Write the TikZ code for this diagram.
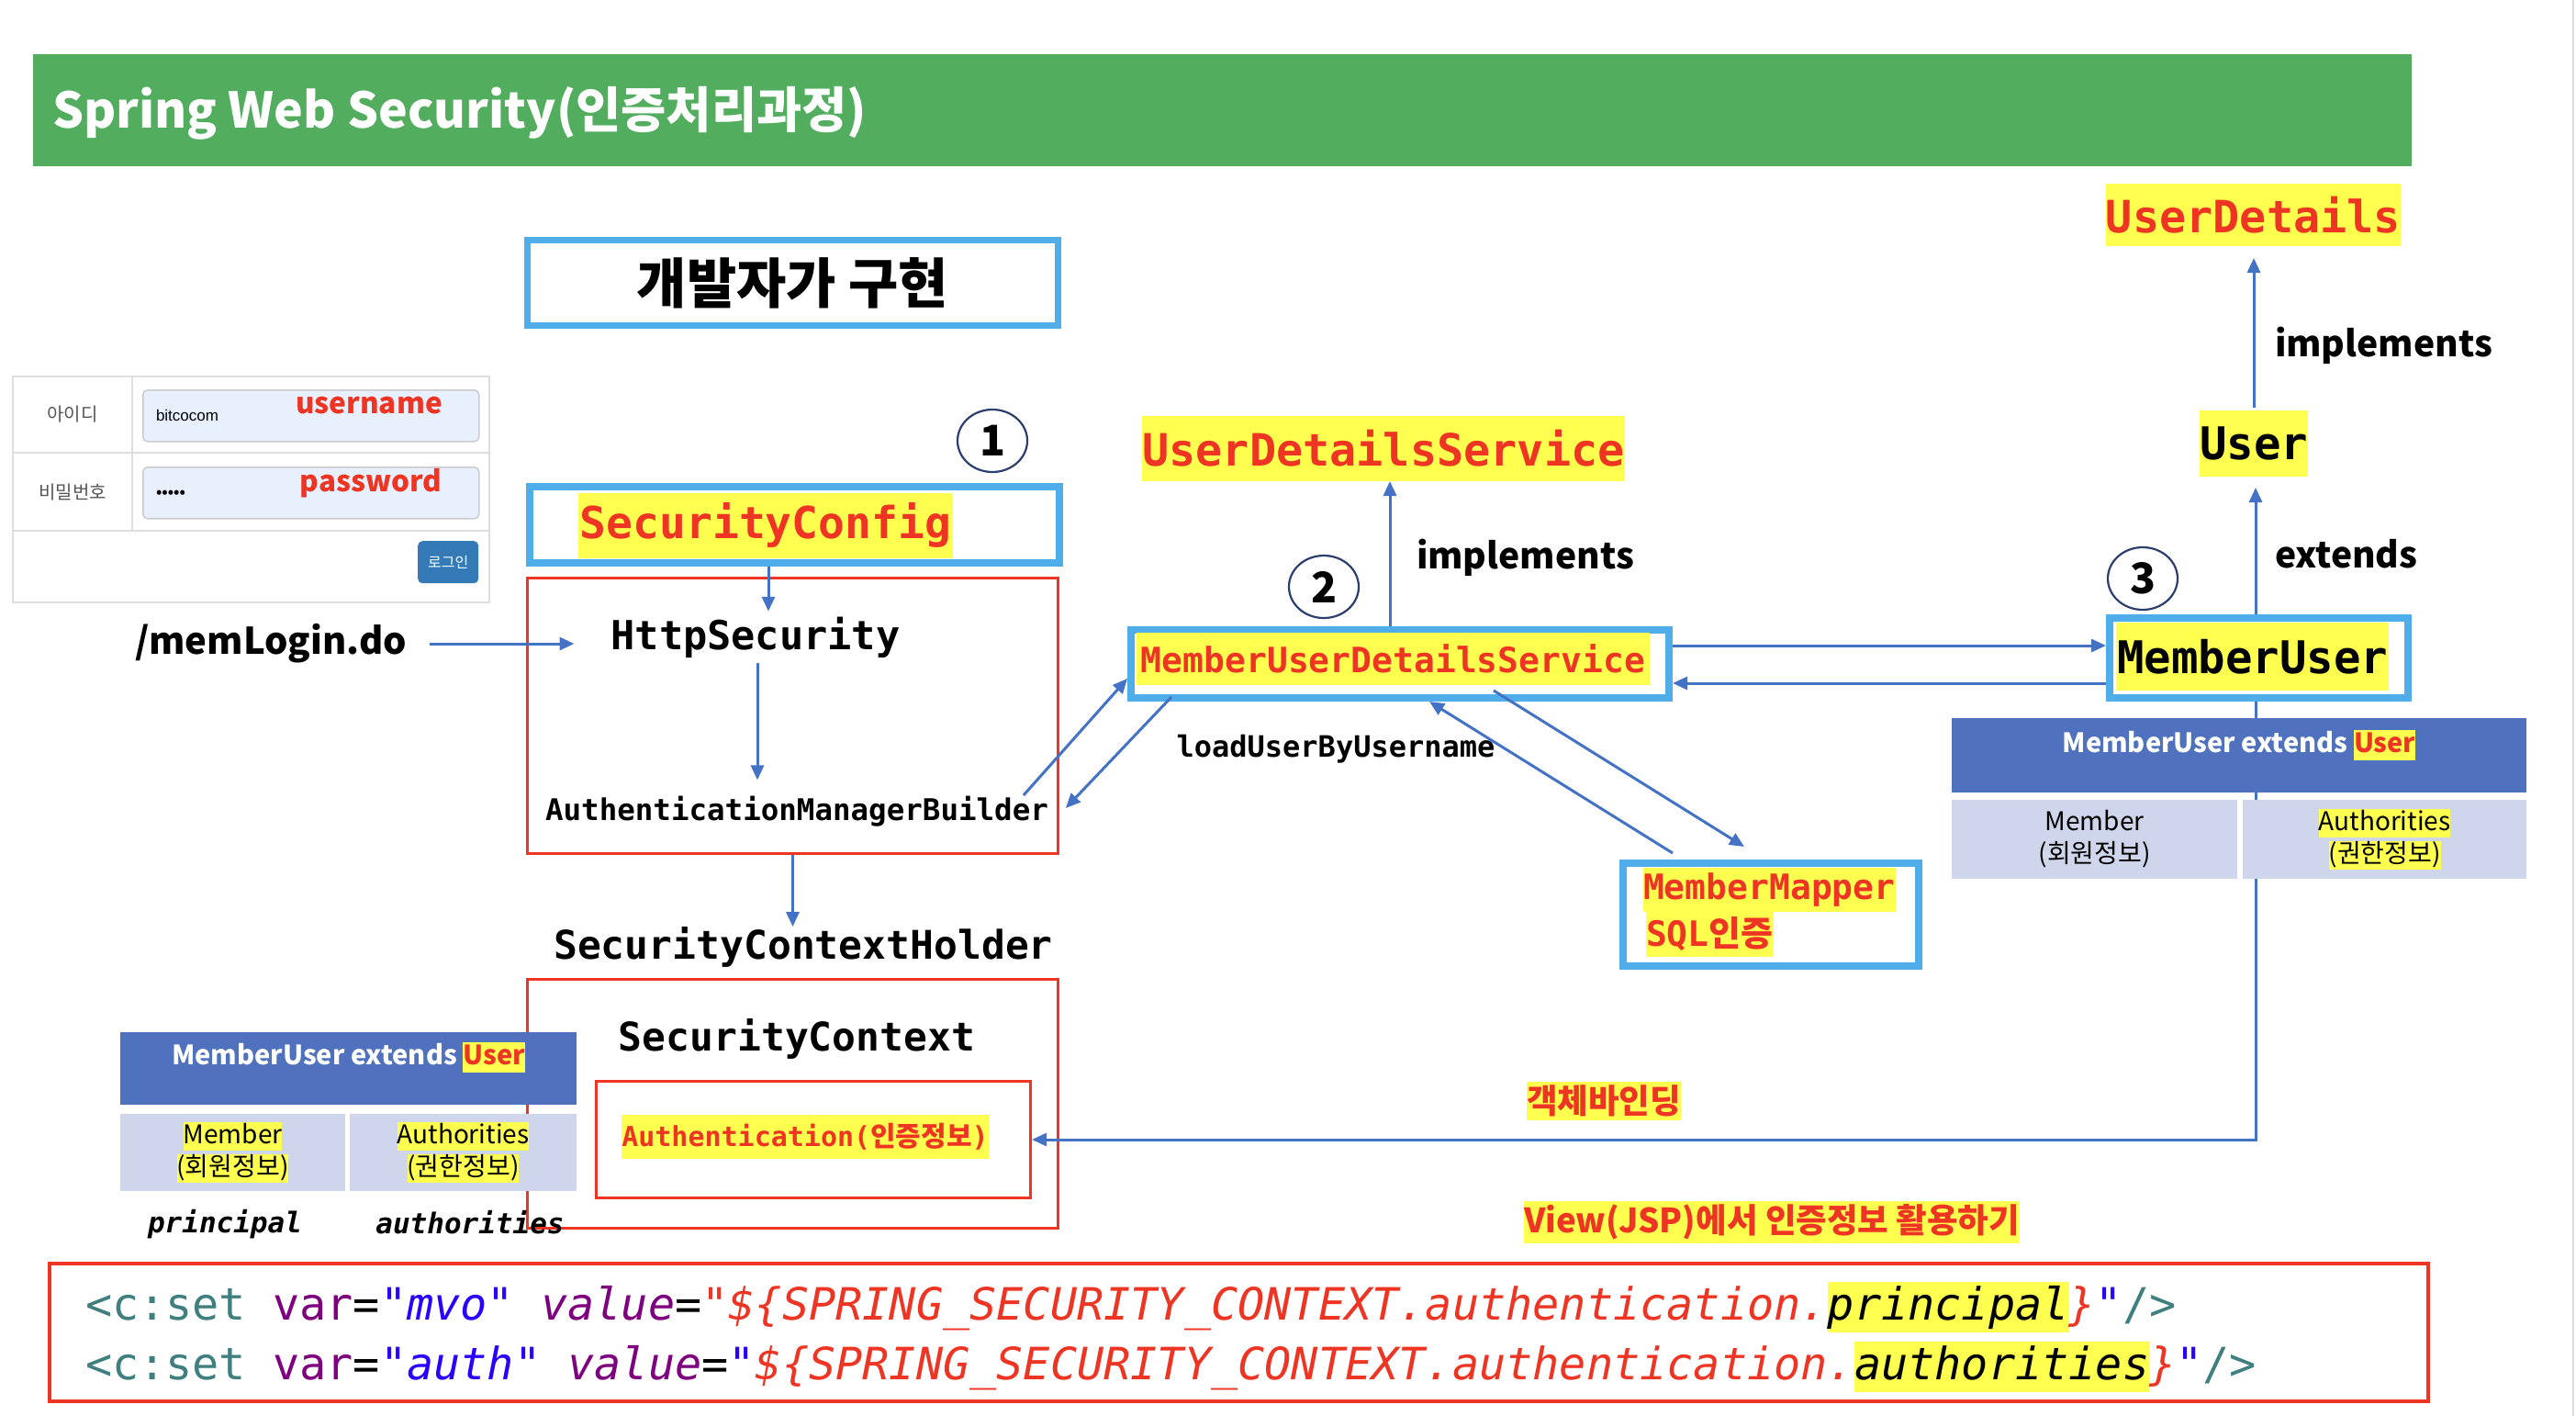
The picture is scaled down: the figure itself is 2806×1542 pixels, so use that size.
\documentclass[tikz,border=0pt]{standalone}
\usepackage{fontspec}
\usetikzlibrary{arrows.meta,shapes.geometric,calc}
\newfontfamily\kr{Noto Sans CJK KR}
\newfontfamily\dmono{DejaVu Sans Mono}
\newfontfamily\lsans{Liberation Sans}
\definecolor{titlegreen}{RGB}{82,173,94}
\definecolor{skyb}{RGB}{79,173,234}
\definecolor{arrb}{RGB}{68,114,196}
\definecolor{redc}{RGB}{238,53,36}
\definecolor{yel}{RGB}{255,255,80}
\definecolor{thead}{RGB}{80,114,190}
\definecolor{tcell}{RGB}{207,213,234}
\definecolor{circc}{RGB}{44,62,110}
\definecolor{codeteal}{RGB}{63,127,127}
\definecolor{codepurple}{RGB}{127,0,127}
\definecolor{codeblue}{RGB}{42,0,255}
\definecolor{btnblue}{RGB}{51,122,183}
\definecolor{inputfill}{RGB}{232,240,254}
\definecolor{formgray}{RGB}{222,222,222}
\definecolor{labgray}{RGB}{85,85,85}
\newcommand\fsz[1]{\fontsize{#1}{#1}\selectfont}
\newcommand\hlbox[1]{{\setlength{\fboxsep}{0pt}\colorbox{yel}{\rule[-0.28em]{0pt}{1.12em}#1}}}
\begin{document}
\begin{tikzpicture}[x=1pt,y=-1pt,
 txt/.style={inner sep=0pt, outer sep=0pt},
 bluebox/.style={draw=skyb, line width=8pt, inner sep=0pt},
 redbox/.style={draw=redc, line width=3pt, inner sep=0pt},
 hlnode/.style={fill=yel, inner sep=0pt, outer sep=0pt},
 arr/.style={draw=arrb, line width=3pt, -{Triangle[length=16pt,width=14pt]}},
 circ/.style={draw=circc, line width=2.2pt, ellipse, minimum width=76pt, minimum height=68pt, inner sep=0pt}]
\useasboundingbox (0,0) rectangle (2806,1542);
\fill[white] (0,0) rectangle (2806,1542);
\draw[formgray, line width=2pt] (2803,0) -- (2803,1542);

% title
\node[fill=titlegreen, minimum width=2591pt, minimum height=122pt, inner sep=0pt, anchor=north west] (titlebar) at (36,59) {};
\node[txt, anchor=west, text=white] (title) at (57,123) {\kr\bfseries\fsz{53.5}Spring Web Security(인증처리과정)};

% developer box
\node[draw=skyb, line width=7pt, minimum width=578pt, minimum height=93pt] (dev) at (863.5,308) {\kr\bfseries\fsz{59}개발자가 구현};

% login form
\node[draw=formgray, line width=2pt, minimum width=519pt, minimum height=246pt, anchor=north west, inner sep=0pt] (form) at (13,409) {};
\draw[formgray, line width=2pt] (13,493) -- (532,493) (13,578) -- (532,578) (144,409) -- (144,578);
\node[draw=formgray!80!gray, fill=inputfill, rounded corners=5pt, line width=1.5pt, minimum width=366pt, minimum height=56pt, anchor=north west] (in1) at (155,424) {};
\node[draw=formgray!80!gray, fill=inputfill, rounded corners=5pt, line width=1.5pt, minimum width=366pt, minimum height=56pt, anchor=north west] (in2) at (155,508) {};
\node[fill=btnblue, rounded corners=5pt, minimum width=66pt, minimum height=46pt, anchor=north west] (btn) at (455,589) {};
\node[txt, text=white] (btnt) at (btn) {\kr\fsz{16}로그인};
\node[txt, text=labgray] (lid) at (79,451) {\kr\fsz{20}아이디};
\node[txt, text=labgray] (lpw) at (79,536) {\kr\fsz{20}비밀번호};
\node[txt, anchor=west] (uid) at (170,452) {\lsans\fsz{17}bitcocom};
\node[txt, anchor=west] (upw) at (170,538) {\kr\bfseries\fsz{16}•••••};
\node[txt, text=redc] (uname) at (402,442) {\kr\bfseries\fsz{31.5}username};
\node[txt, text=redc] (pword) at (404,526) {\kr\bfseries\fsz{31.5}password};

% memLogin
\node[txt] (mem) at (295,701) {\kr\bfseries\fsz{40}/memLogin.do};

% SecurityConfig block
\node[circ] (c1) at (1081,480) {\kr\bfseries\fsz{46}1};
\node[bluebox, minimum width=577pt, minimum height=83pt] (scbox) at (865.5,571.5) {};
\node[hlnode, text=redc, minimum width=408pt, minimum height=71pt] (scfg) at (834,572) {\dmono\bfseries\fsz{48}SecurityConfig};
\node[redbox, minimum width=578pt, minimum height=300pt] (rb1) at (863.5,779.5) {};
\node[txt] (http) at (823,694) {\dmono\bfseries\fsz{43.6}HttpSecurity};
\node[txt] (amb) at (868,884) {\dmono\bfseries\fsz{32.5}AuthenticationManagerBuilder};
\node[txt] (sch) at (875,1031) {\dmono\bfseries\fsz{43}SecurityContextHolder};
\node[redbox, minimum width=578pt, minimum height=271pt] (rb2) at (863.5,1202) {};
\node[txt] (sctx) at (868,1131) {\dmono\bfseries\fsz{43}SecurityContext};
\node[redbox, minimum width=473pt, minimum height=127pt] (rb3) at (886,1241) {};
\node[hlnode, text=redc, inner ysep=9pt] (auth) at (877,1238) {\dmono\bfseries\fsz{30}Authentication({\kr 인증정보})};

% middle
\node[hlnode, text=redc, minimum width=526pt, minimum height=71pt] (uds) at (1507,488.5) {\dmono\bfseries\fsz{48.5}UserDetailsService};
\node[txt, anchor=west] (impl1) at (1543,607) {\kr\bfseries\fsz{39}implements};
\node[circ] (c2) at (1442,639) {\kr\bfseries\fsz{46}2};
\node[bluebox, minimum width=586pt, minimum height=74pt] (musds) at (1525,723) {};
\node[hlnode, text=redc, minimum width=559pt, minimum height=57pt] (musdst) at (1517.5,717.5) {\dmono\bfseries\fsz{38}MemberUserDetailsService};
\node[txt] (load) at (1455,816) {\dmono\bfseries\fsz{32}loadUserByUsername};
\node[bluebox, minimum width=322pt, minimum height=112pt] (mm) at (1929,996) {};
\node[hlnode, text=redc, anchor=west, minimum height=48pt] (mm1) at (1790,969) {\dmono\bfseries\fsz{38}MemberMapper};
\node[hlnode, text=redc, anchor=west, minimum height=49pt] (mm2) at (1793,1017.5) {\dmono\bfseries\fsz{38}SQL{\kr 인증}};

% right
\node[hlnode, text=redc, minimum width=321pt, minimum height=68pt] (ud) at (2454.5,234) {\dmono\bfseries\fsz{48.5}UserDetails};
\node[txt, anchor=west] (impl2) at (2478,376) {\kr\bfseries\fsz{39}implements};
\node[hlnode, minimum width=118pt, minimum height=72pt] (user) at (2455,483) {\dmono\bfseries\fsz{49}User};
\node[txt, anchor=west] (ext) at (2478,603) {\kr\bfseries\fsz{39}extends};
\node[circ] (c3) at (2334,630) {\kr\bfseries\fsz{46}3};
\node[bluebox, minimum width=325pt, minimum height=87pt] (mu) at (2460.5,716.5) {};
\node[hlnode, minimum width=297pt, minimum height=74pt] (mut) at (2453.5,715) {\dmono\bfseries\fsz{49}MemberUser};

% labels
\node[hlnode, text=redc, inner ysep=4pt] (bind) at (1747,1199) {\kr\bfseries\fsz{36.5}객체바인딩};
\node[hlnode, text=redc, inner ysep=4pt] (view) at (1930,1331) {\kr\bfseries\fsz{36.5}View(JSP)에서 인증정보 활용하기};

% connectors
\draw[arr] ([xshift=25pt]mem.east) -- ([xshift=-40pt]http.west |- mem.east);
\draw[arr] ([xshift=-28.5pt]scbox.south) -- ([xshift=-28.5pt,yshift=6pt]scbox.south |- http.north);
\draw[arr, shorten <=6pt, shorten >=18pt] ([xshift=2pt]http.south) -- ([xshift=2pt]http.south |- amb.north);
\draw[arr] (rb1.south) -- (rb1.south |- sch.north);
\draw[arr] ($(amb.east)+(-27,-18)$) -- ($(musds.west)+(0,16)$);
\draw[arr] ($(musds.south west)+(48,-5)$) -- ($(amb.east)+(19,-4)$);
\draw[arr] ([xshift=-11pt]musds.north) -- ([xshift=-11pt]musds.north |- uds.south);
\draw[arr] ([yshift=20pt]musds.east) -- ([yshift=20pt]musds.east -| mu.west);
\draw[arr] ([yshift=-21pt]musds.east -| mu.west) -- ([yshift=-21pt]musds.east);
\draw[arr] ($(musds.south)+(102,-12)$) -- ($(mm.north)+(-29,-14)$);
\draw[arr] ($(mm.north)+(-107,-7)$) -- ($(musds.south)+(32,0)$);
\draw[arr, shorten >=12pt] ([xshift=-3.5pt]mu.north) -- ([xshift=-3.5pt]mu.north |- user.south);
\draw[arr, shorten <=3pt, shorten >=13pt] (user.north) -- (user.north |- ud.south);
\draw[arr] ([xshift=-3.5pt]mu.south) |- (rb3.east);

% right table
\node[fill=thead, minimum width=626pt, minimum height=81pt, inner sep=0pt] (rth) at (2439,822.5) {};
\node[txt, text=white] (rtht) at ($(rth.center)+(0,-11)$) {\kr\bfseries\fsz{29}MemberUser extends \hlbox{\textcolor{redc}{User}}};
\node[fill=tcell, minimum width=311pt, minimum height=86pt, inner sep=0pt] (rtc1) at (2281.5,914) {};
\node[fill=tcell, minimum width=309pt, minimum height=86pt, inner sep=0pt] (rtc2) at (2597.5,914) {};
\node[txt, align=center, font=\kr\fontsize{28}{35}\selectfont] (rtc1t) at (rtc1) {Member\\(회원정보)};
\node[txt, align=center, font=\kr\fontsize{28}{35}\selectfont] (rtc2t) at (rtc2) {\hlbox{Authorities}\\\hlbox{(권한정보)}};

% left table
\node[fill=thead, minimum width=497pt, minimum height=79pt, inner sep=0pt] (lth) at (379.5,1163.5) {};
\node[txt, text=white] (ltht) at ($(lth.center)+(0,-12)$) {\kr\bfseries\fsz{29}MemberUser extends \hlbox{\textcolor{redc}{User}}};
\node[fill=tcell, minimum width=245pt, minimum height=84pt, inner sep=0pt] (ltc1) at (253.5,1255) {};
\node[fill=tcell, minimum width=247pt, minimum height=84pt, inner sep=0pt] (ltc2) at (504.5,1255) {};
\node[txt, align=center, font=\kr\fontsize{28}{35}\selectfont] (ltc1t) at (ltc1) {\hlbox{Member}\\\hlbox{(회원정보)}};
\node[txt, align=center, font=\kr\fontsize{28}{35}\selectfont] (ltc2t) at (ltc2) {\hlbox{Authorities}\\\hlbox{(권한정보)}};
\node[txt] (princ) at (245,1333) {\dmono\bfseries\itshape\fsz{31}principal};
\node[txt] (auths) at (512,1331) {\dmono\bfseries\itshape\fsz{31}authorities};

% code box
\node[draw=redc, line width=4pt, minimum width=2591pt, minimum height=150pt, inner sep=0pt] (codebox) at (1349.5,1451) {};
\node[txt, anchor=base west] (code1) at (93,1437) {\dmono\fsz{48.5}\textcolor{codeteal}{<c:set} \textcolor{codepurple}{var}=\textcolor{codeblue}{\itshape"mvo"} \textcolor{codepurple}{\itshape value}=\textcolor{redc}{\itshape"\$\{SPRING\_SECURITY\_CONTEXT.authentication.}\hlbox{\itshape principal}\textcolor{redc}{\itshape\}}\textcolor{codeblue}{\itshape"}\textcolor{codeteal}{/>}};
\node[txt, anchor=base west] (code2) at (93,1502) {\dmono\fsz{48.5}\textcolor{codeteal}{<c:set} \textcolor{codepurple}{var}=\textcolor{codeblue}{\itshape"auth"} \textcolor{codepurple}{\itshape value}=\textcolor{codeblue}{\itshape"}\textcolor{redc}{\itshape\$\{SPRING\_SECURITY\_CONTEXT.authentication.}\hlbox{\itshape authorities}\textcolor{redc}{\itshape\}}\textcolor{codeblue}{\itshape"}\textcolor{codeteal}{/>}};
\end{tikzpicture}
\end{document}
